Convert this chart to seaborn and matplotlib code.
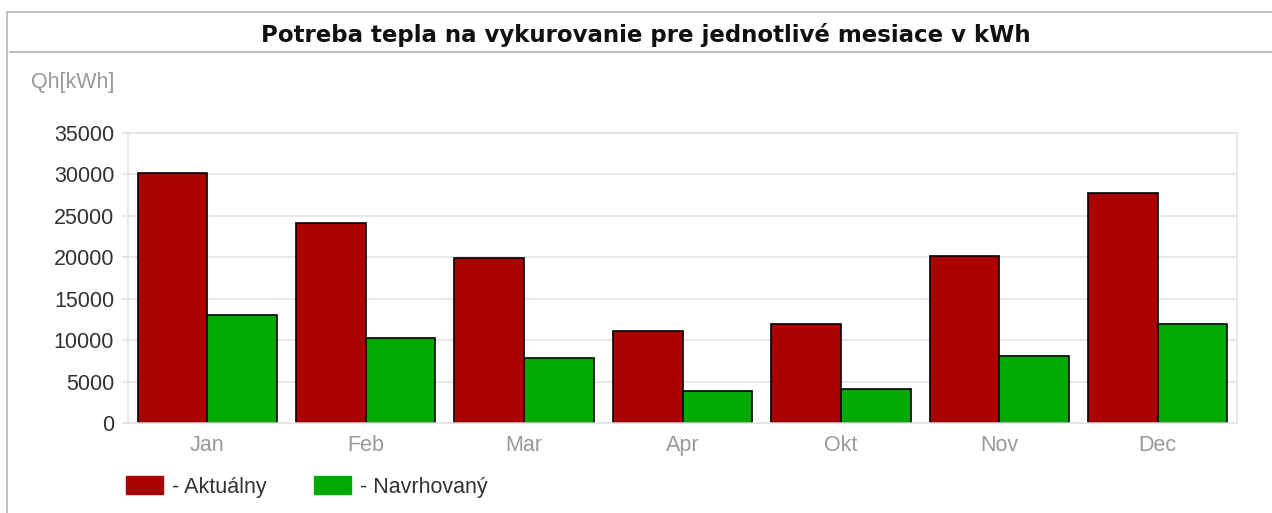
import pandas as pd
import matplotlib
matplotlib.use("Agg")
import matplotlib.pyplot as plt
from matplotlib.lines import Line2D
from matplotlib.patches import Patch
import seaborn as sns

# ==================================================
# DATA
# ==================================================

MONTHS = ["Jan", "Feb", "Mar", "Apr", "Okt", "Nov", "Dec"]

AKTUALNY = [30200, 24100, 19950, 11100, 12000, 20100, 27800]
NAVRHOVANY = [13000, 10300, 7850, 3900, 4100, 8100, 12000]

SERIES = ["Aktuálny", "Navrhovaný"]
COLORS = ["#aa0000", "#00aa00"]

Y_TICKS = [0, 5000, 10000, 15000, 20000, 25000, 30000, 35000]

TITLE = "Potreba tepla na vykurovanie pre jednotlivé mesiace v kWh"
Y_LABEL = "Qh[kWh]"

# ==================================================
# FIGURE
# ==================================================

W, H = 1272, 513
FS = 15.5

sns.set_style("white")
plt.rcParams["font.family"] = ["Liberation Sans", "DejaVu Sans"]

df = pd.DataFrame({
    "Mesiac": MONTHS * 2,
    "Qh": AKTUALNY + NAVRHOVANY,
    "Variant": [SERIES[0]] * len(MONTHS) + [SERIES[1]] * len(MONTHS),
})

fig = plt.figure(figsize=(W / 100, H / 100), dpi=100)

# axes box in pixels: left 128, right 1237, top 133, bottom 423
ax = fig.add_axes([
    128 / W,
    1 - 423 / H,
    (1237 - 128) / W,
    (423 - 133) / H,
])

sns.barplot(
    data=df,
    x="Mesiac",
    y="Qh",
    hue="Variant",
    hue_order=SERIES,
    order=MONTHS,
    palette=COLORS,
    width=0.88,
    gap=0,
    edgecolor="black",
    linewidth=1.2,
    saturation=1,
    legend=False,
    ax=ax,
)

ax.set_ylim(0, 35000)
ax.set_xlim(-0.5, len(MONTHS) - 0.5)
ax.set_yticks(Y_TICKS)
ax.set_yticklabels([str(t) for t in Y_TICKS])
ax.set_xlabel("")
ax.set_ylabel("")

ax.grid(axis="y", color="#e2e2e2", linewidth=1.1)
ax.set_axisbelow(True)

for side in ["left", "right", "top", "bottom"]:
    ax.spines[side].set_color("#e2e2e2")
    ax.spines[side].set_linewidth(1.1)

ax.tick_params(
    axis="y",
    length=4.5,
    width=1.1,
    color="#e2e2e2",
    pad=5.5,
    labelsize=FS,
    labelcolor="#333333",
    left=True,
)
ax.tick_params(
    axis="x",
    length=0,
    pad=8.5,
    labelsize=FS,
    labelcolor="#999999",
)

# ==================================================
# TITLE, FRAME, LABEL
# ==================================================

fig.text(
    646 / W,
    1 - 35 / H,
    TITLE,
    ha="center",
    va="center",
    fontsize=16.5,
    fontweight="bold",
    family="DejaVu Sans",
    color="#111111",
)

frame_color = "#bdbdbd"
fig.add_artist(Line2D([7 / W, 7 / W], [0, 1 - 12 / H], color=frame_color,
                      linewidth=1.3, transform=fig.transFigure))
fig.add_artist(Line2D([7 / W, 1], [1 - 12 / H, 1 - 12 / H], color=frame_color,
                      linewidth=1.3, transform=fig.transFigure))
fig.add_artist(Line2D([10 / W, 1], [1 - 52 / H, 1 - 52 / H], color=frame_color,
                      linewidth=1.5, transform=fig.transFigure))

fig.text(
    31 / W,
    1 - 83 / H,
    Y_LABEL,
    ha="left",
    va="center",
    fontsize=FS,
    color="#999999",
)

# ==================================================
# LEGEND
# ==================================================

handles = [Patch(facecolor=c, edgecolor=c) for c in COLORS]
labels = [f"- {s}" for s in SERIES]

fig.legend(
    handles,
    labels,
    loc="center left",
    bbox_to_anchor=(126 / W, 1 - 487 / H),
    ncol=2,
    frameon=False,
    fontsize=FS,
    labelcolor="#333333",
    handlelength=1.72,
    handleheight=0.9,
    handletextpad=0.42,
    columnspacing=2.2,
    borderaxespad=0,
    borderpad=0,
)

fig.savefig("out.png", dpi=100)
plt.close(fig)
